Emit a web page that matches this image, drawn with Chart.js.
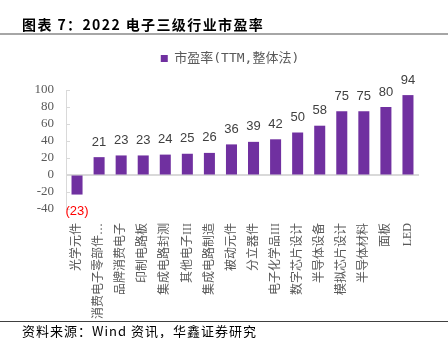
<!DOCTYPE html>
<html>
<head>
<meta charset="utf-8">
<script src="https://cdn.jsdelivr.net/npm/chart.js@4.4.1/dist/chart.umd.min.js"></script>
<style>
  body { margin: 0; width: 448px; height: 338px; overflow: hidden; background: #fff; font-family: "Noto Sans CJK SC", sans-serif; }
  #wrap { position: absolute; left: 0; top: 0; width: 448px; height: 338px; }
  #title { position: absolute; left: 22px; top: 15px; font-size: 14px; line-height: 18px; font-weight: bold; letter-spacing: 1.4px; color: #000; }
  #tline { position: absolute; left: 0; top: 33px; width: 448px; height: 2px; background: #a6a6a6; }
  #fline { position: absolute; left: 0; top: 321px; width: 448px; height: 1px; background: #404040; }
  #foot { position: absolute; left: 22px; top: 322px; font-size: 13px; line-height: 17px; letter-spacing: 1px; color: #000; }
</style>
</head>
<body>
<div id="wrap"><canvas id="pe"></canvas></div>
<div id="title">图表 7：2022 电子三级行业市盈率</div>
<div id="tline"></div>
<div id="fline"></div>
<div id="foot">资料来源：Wind 资讯，华鑫证券研究</div>
<script>
const categories = ["光学元件", "消费电子零部件…", "品牌消费电子", "印制电路板", "集成电路封测", "其他电子III",
  "集成电路制造", "被动元件", "分立器件", "电子化学品III", "数字芯片设计", "半导体设备",
  "模拟芯片设计", "半导体材料", "面板", "LED"];
const peValues = [-23, 21, 23, 23, 24, 25, 26, 36, 39, 42, 50, 58, 75, 75, 80, 94];
const seriesName = "市盈率(TTM,整体法)";
const yMin = -40, yMax = 100, yStep = 20;

const purple = "#7030a0";
const serif = '"Liberation Serif", "Noto Sans CJK SC", serif';

// extra room between legend and plot, legend nudged right
const legendGap = {
  id: "legendGap",
  beforeInit(chart) {
    const lg = chart.legend;
    const fit = lg.fit;
    lg.fit = function() {
      fit.call(this);
      this.height += 15;
    };
  },
  afterLayout(chart) {
    chart.legend.left += 41;
  }
};

// zero line across the plot
const zeroLine = {
  id: "zeroLine",
  beforeDatasetsDraw(chart) {
    const ctx = chart.ctx, a = chart.chartArea;
    const y = chart.scales.y.getPixelForValue(0);
    ctx.save();
    ctx.fillStyle = "#d9d9d9";
    ctx.fillRect(a.left, y - 1, a.right - a.left, 2);
    ctx.restore();
  }
};

// value labels, negatives in red with brackets
const valueLabels = {
  id: "valueLabels",
  afterDatasetsDraw(chart) {
    const ctx = chart.ctx;
    const meta = chart.getDatasetMeta(0);
    ctx.save();
    ctx.font = '13px "Liberation Sans", sans-serif';
    ctx.textAlign = "center";
    ctx.textBaseline = "middle";
    meta.data.forEach(function(bar, i) {
      const v = peValues[i];
      if (v < 0) {
        ctx.fillStyle = "#ff0000";
        ctx.fillText("(" + (-v) + ")", bar.x, bar.y + 17);
      } else {
        ctx.fillStyle = "#404040";
        ctx.fillText(String(v), bar.x, bar.y - 15);
      }
    });
    ctx.restore();
  }
};

const config = {
  type: "bar",
  data: {
    labels: categories,
    datasets: [{
      label: seriesName,
      data: peValues,
      backgroundColor: purple,
      barPercentage: 0.5,
      categoryPercentage: 1
    }]
  },
  options: {
    responsive: false,
    animation: false,
    layout: { padding: { top: 27, right: 29, bottom: 0, left: 0 } },
    plugins: {
      legend: {
        position: "top",
        labels: {
          boxWidth: 7,
          boxHeight: 7,
          padding: 25,
          color: "#595959",
          font: { size: 13, family: '"DejaVu Sans Mono", "Noto Sans CJK SC", monospace' }
        }
      },
      tooltip: { enabled: false }
    },
    scales: {
      x: {
        grid: { display: false },
        border: { display: false },
        ticks: {
          autoSkip: false,
          minRotation: 90,
          maxRotation: 90,
          padding: 6,
          color: "#595959",
          font: { size: 12, family: serif }
        },
        afterFit(scale) { scale.height = 129; }
      },
      y: {
        min: yMin,
        max: yMax,
        ticks: {
          stepSize: yStep,
          autoSkip: false,
          padding: 16,
          color: "#595959",
          font: { size: 13, family: serif }
        },
        grid: { drawOnChartArea: false, tickLength: -4, color: "#d9d9d9" },
        border: { color: "#d9d9d9" },
        afterFit(scale) { scale.width = 66; }
      }
    }
  },
  plugins: [legendGap, zeroLine, valueLabels]
};

window.onload = function() {
  const cv = document.getElementById("pe");
  cv.width = 448;
  cv.height = 338;
  window.chart = new Chart(cv.getContext("2d"), config);
};
</script>
</body>
</html>
